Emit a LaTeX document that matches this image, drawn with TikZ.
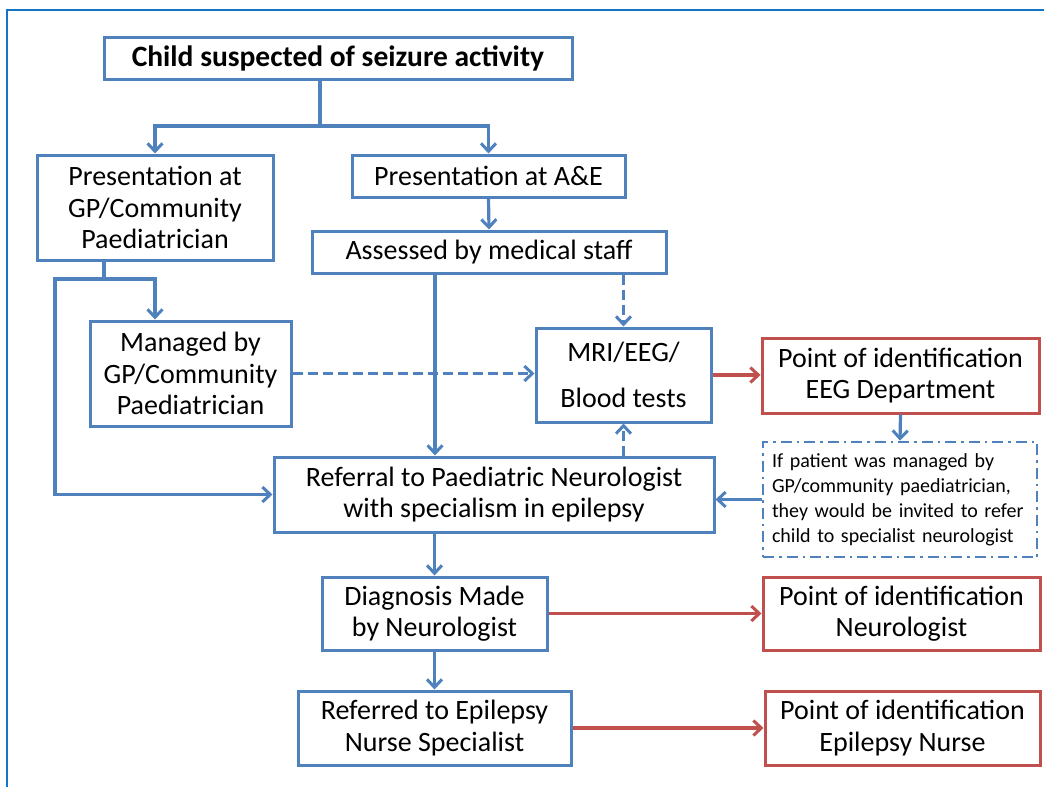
\documentclass[tikz,border=0pt]{standalone}
\usepackage{fontspec}
\setmainfont{Carlito}
\usetikzlibrary{arrows.meta}
\definecolor{bbox}{HTML}{4F81BD}
\definecolor{rbox}{HTML}{C0504D}
\definecolor{frame}{HTML}{1275C8}
\tikzset{
  base/.style={draw, line width=3pt, align=center, inner sep=2pt, text=black},
  bluebox/.style={base, draw=bbox},
  redbox/.style={base, draw=rbox},
  notebox/.style={draw=bbox, line width=2.6pt, dash pattern=on 11pt off 5pt on 2.5pt off 5pt, align=left, inner sep=0pt, text=black},
  txt/.style={font=\fontsize{28}{31.5}\selectfont},
  barb/.tip={Straight Barb[length=8pt,width=15pt,line width=3pt]},
  conn/.style={draw=bbox, line width=3.2pt, line join=miter, -barb},
  plain/.style={draw=bbox, line width=3.2pt, line join=miter},
  dconn/.style={conn, dash pattern=on 10pt off 5pt},
  rconn/.style={draw=rbox, line width=3.2pt, -barb},
}
\begin{document}
\begin{tikzpicture}[x=1pt,y=-1pt]
\useasboundingbox (0,0) rectangle (1044,787);
\draw[frame, line width=2.4pt] (1044,10) -- (7,10) -- (7,787);

\node[bluebox, minimum width=468pt, minimum height=42pt, font=\bfseries\fontsize{29.5}{32}\selectfont] (title) at (338,58) {Child suspected of seizure activity};
\node[bluebox, txt, minimum width=236pt, minimum height=105pt] (gp) at (155,207.5) {Presentation at\\GP/Community\\Paediatrician};
\node[bluebox, txt, minimum width=273pt, minimum height=42pt] (ae) at (488.5,176) {Presentation at A\&E};
\node[bluebox, txt, minimum width=354pt, minimum height=42pt] (assess) at (489,252) {Assessed by medical staff};
\node[bluebox, txt, minimum width=201pt, minimum height=105pt] (managed) at (190.5,373.5) {Managed by\\GP/Community\\Paediatrician};
\node[bluebox, txt, minimum width=175pt, minimum height=94pt] (mri) at (623.5,375) {MRI/EEG/\\[15pt]Blood tests};
\node[redbox, txt, minimum width=277pt, minimum height=75pt] (eeg) at (900.5,375.5) {Point of identification\\EEG Department};
\node[notebox, minimum width=274pt, minimum height=115pt, text width=256pt, font=\fontsize{20}{25}\selectfont] (note) at (900,499.5) {If patient was managed by\\GP/community paediatrician,\\they would be invited to refer\\child to specialist neurologist};
\node[bluebox, txt, minimum width=440pt, minimum height=75pt] (referral) at (494,494.5) {Referral to Paediatric Neurologist\\with specialism in epilepsy};
\node[bluebox, txt, minimum width=225pt, minimum height=73pt] (diag) at (434.5,613.5) {Diagnosis Made\\by Neurologist};
\node[redbox, txt, minimum width=277pt, minimum height=73pt] (neuro) at (901.5,613.5) {Point of identification\\Neurologist};
\node[bluebox, txt, minimum width=273pt, minimum height=74pt] (referred) at (434.5,728) {Referred to Epilepsy\\Nurse Specialist};
\node[redbox, txt, minimum width=275pt, minimum height=74pt] (nurse) at (902.5,728) {Point of identification\\Epilepsy Nurse};

\coordinate (t1) at (320,126);
\coordinate (g1) at (104,279);
\coordinate (g2) at (155,279);
\coordinate (g3) at (55,279);
\coordinate (a1) at (435,273);

\draw[plain] (title.south -| t1) -- (t1);
\draw[conn, barb-barb] (gp.north) |- (t1) -| (ae.north);
\draw[conn] (ae.south) -- (assess.north);
\draw[plain] (gp.south -| g1) -- (g1);
\draw[conn, barb-barb] (g2 |- managed.north) -- (g2) -- (g3) |- (referral.west);
\draw[conn] (assess.south -| a1) -- (referral.north -| a1);
\draw[dconn] (assess.south -| mri.north) -- (mri.north);
\draw[dconn] (referral.north -| mri.south) -- (mri.south);
\draw[dconn] (managed.east) -- (managed.east -| mri.west);
\draw[rconn] (mri.east) -- (mri.east -| eeg.west);
\draw[conn] (eeg.south) -- (note.north);
\draw[conn] (note.west) -- (note.west -| referral.east);
\draw[conn] (referral.south -| diag.north) -- (diag.north);
\draw[conn] (diag.south) -- (referred.north);
\draw[rconn] (diag.east) -- (neuro.west);
\draw[rconn] (referred.east) -- (nurse.west);
\end{tikzpicture}
\end{document}
